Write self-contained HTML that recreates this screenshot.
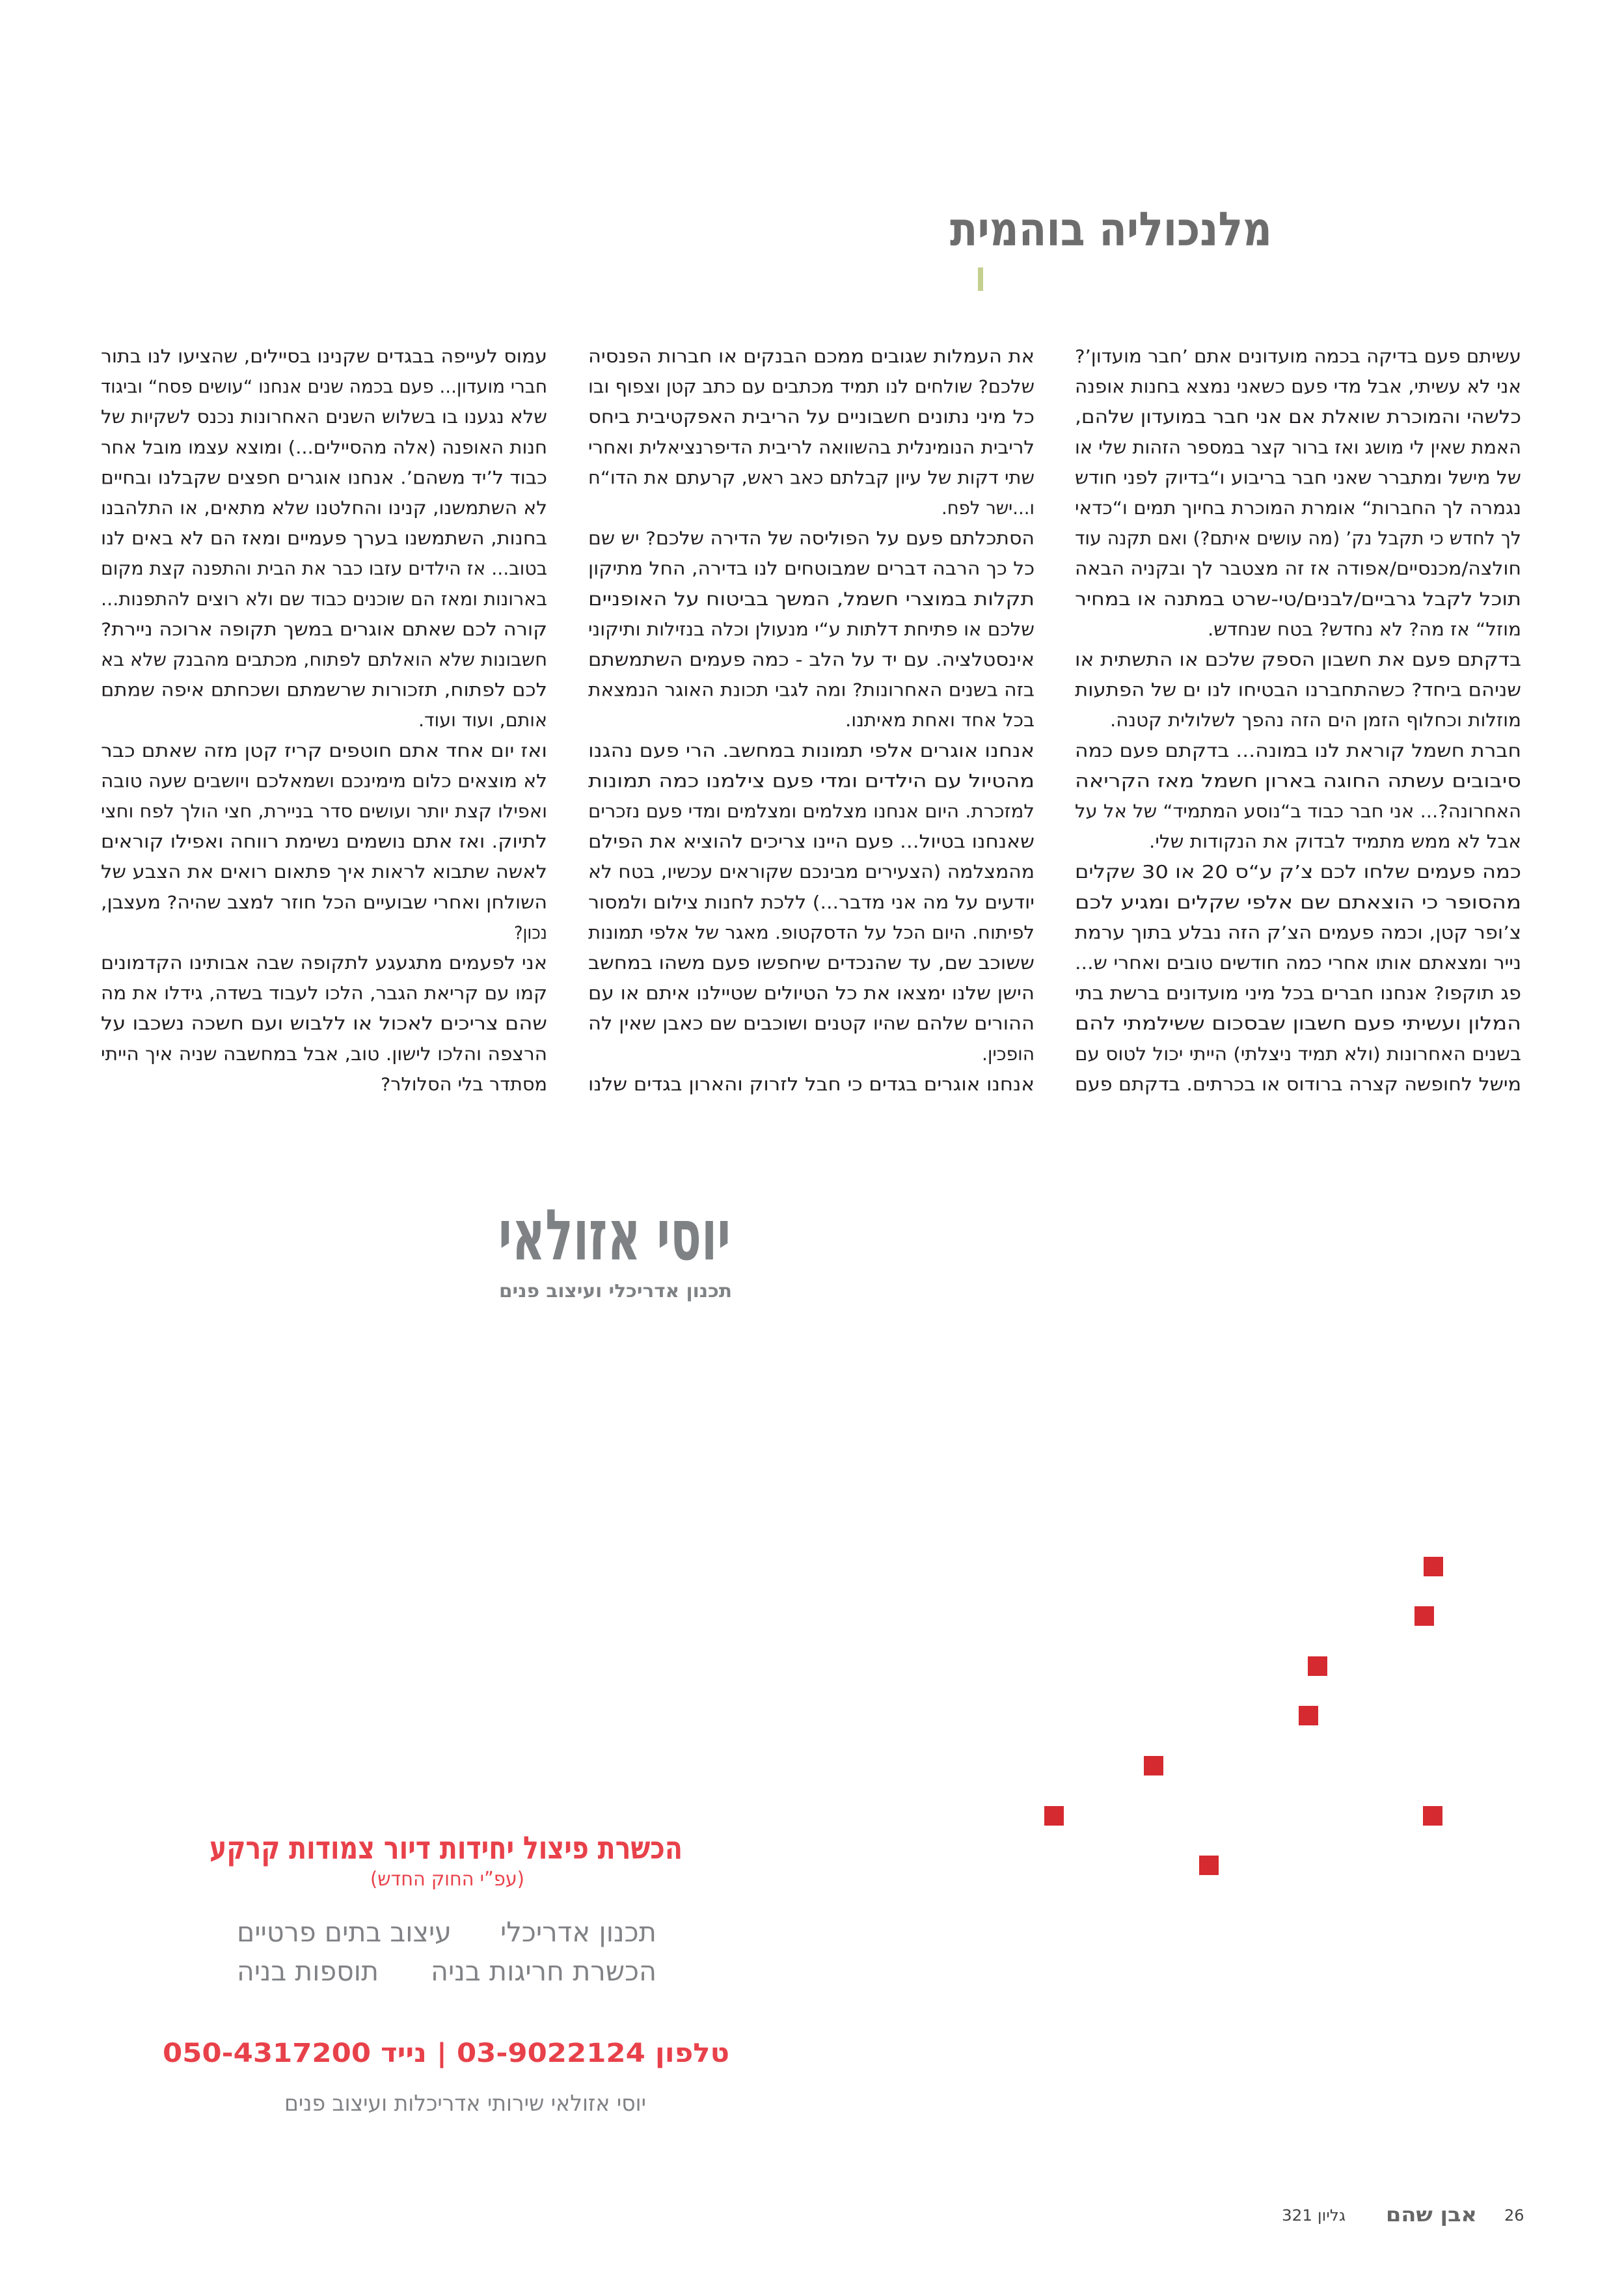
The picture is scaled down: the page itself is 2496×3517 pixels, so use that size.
<!DOCTYPE html>
<html><head><meta charset="utf-8"><style>
html,body{margin:0;padding:0;background:#fff}
svg{display:block}
text{font-family:"DejaVu Sans","Liberation Sans",sans-serif}
.b{font-size:28px;fill:#231f20}
</style></head><body>
<svg width="2496" height="3517" viewBox="0 0 2496 3517" xmlns="http://www.w3.org/2000/svg">
<rect width="2496" height="3517" fill="#fff"/>
<text x="1955" y="377" direction="rtl" text-anchor="start" font-size="72" font-weight="bold" fill="#6d6d6d" textLength="495" lengthAdjust="spacingAndGlyphs">מלנכוליה בוהמית</text>
<rect x="1503" y="411" width="8" height="36" fill="#c4d08e"/>

<g class="b">
<!-- right column -->
<text class="b" x="2338" y="557" direction="rtl" text-anchor="start" textLength="686" lengthAdjust="spacingAndGlyphs">עשיתם פעם בדיקה בכמה מועדונים אתם ’חבר מועדון’?</text>
<text class="b" x="2338" y="603.6" direction="rtl" text-anchor="start" textLength="686" lengthAdjust="spacingAndGlyphs">אני לא עשיתי, אבל מדי פעם כשאני נמצא בחנות אופנה</text>
<text class="b" x="2338" y="650.2" direction="rtl" text-anchor="start" textLength="686" lengthAdjust="spacingAndGlyphs">כלשהי והמוכרת שואלת אם אני חבר במועדון שלהם,</text>
<text class="b" x="2338" y="696.8" direction="rtl" text-anchor="start" textLength="686" lengthAdjust="spacingAndGlyphs">האמת שאין לי מושג ואז ברור קצר במספר הזהות שלי או</text>
<text class="b" x="2338" y="743.4" direction="rtl" text-anchor="start" textLength="686" lengthAdjust="spacingAndGlyphs">של מישל ומתברר שאני חבר בריבוע ו“בדיוק לפני חודש</text>
<text class="b" x="2338" y="790" direction="rtl" text-anchor="start" textLength="686" lengthAdjust="spacingAndGlyphs">נגמרה לך החברות“ אומרת המוכרת בחיוך תמים ו“כדאי</text>
<text class="b" x="2338" y="836.6" direction="rtl" text-anchor="start" textLength="686" lengthAdjust="spacingAndGlyphs">לך לחדש כי תקבל נק’ (מה עושים איתם?) ואם תקנה עוד</text>
<text class="b" x="2338" y="883.2" direction="rtl" text-anchor="start" textLength="686" lengthAdjust="spacingAndGlyphs">חולצה/מכנסיים/אפודה אז זה מצטבר לך ובקניה הבאה</text>
<text class="b" x="2338" y="929.8" direction="rtl" text-anchor="start" textLength="686" lengthAdjust="spacingAndGlyphs">תוכל לקבל גרביים/לבנים/טי-שרט במתנה או במחיר</text>
<text class="b" x="2338" y="976.4" direction="rtl" text-anchor="start" textLength="482" lengthAdjust="spacingAndGlyphs">מוזל“ אז מה? לא נחדש? בטח שנחדש.</text>
<text class="b" x="2338" y="1023" direction="rtl" text-anchor="start" textLength="686" lengthAdjust="spacingAndGlyphs">בדקתם פעם את חשבון הספק שלכם או התשתית או</text>
<text class="b" x="2338" y="1069.6" direction="rtl" text-anchor="start" textLength="686" lengthAdjust="spacingAndGlyphs">שניהם ביחד? כשהתחברנו הבטיחו לנו ים של הפתעות</text>
<text class="b" x="2338" y="1116.2" direction="rtl" text-anchor="start" textLength="632" lengthAdjust="spacingAndGlyphs">מוזלות וכחלוף הזמן הים הזה נהפך לשלולית קטנה.</text>
<text class="b" x="2338" y="1162.8" direction="rtl" text-anchor="start" textLength="686" lengthAdjust="spacingAndGlyphs">חברת חשמל קוראת לנו במונה... בדקתם פעם כמה</text>
<text class="b" x="2338" y="1209.4" direction="rtl" text-anchor="start" textLength="686" lengthAdjust="spacingAndGlyphs">סיבובים עשתה החוגה בארון חשמל מאז הקריאה</text>
<text class="b" x="2338" y="1256" direction="rtl" text-anchor="start" textLength="686" lengthAdjust="spacingAndGlyphs">האחרונה?... אני חבר כבוד ב“נוסע המתמיד“ של אל על</text>
<text class="b" x="2338" y="1302.6" direction="rtl" text-anchor="start" textLength="572" lengthAdjust="spacingAndGlyphs">אבל לא ממש מתמיד לבדוק את הנקודות שלי.</text>
<text class="b" x="2338" y="1349.2" direction="rtl" text-anchor="start" textLength="686" lengthAdjust="spacingAndGlyphs">כמה פעמים שלחו לכם צ’ק ע“ס 20 או 30 שקלים</text>
<text class="b" x="2338" y="1395.8" direction="rtl" text-anchor="start" textLength="686" lengthAdjust="spacingAndGlyphs">מהסופר כי הוצאתם שם אלפי שקלים ומגיע לכם</text>
<text class="b" x="2338" y="1442.4" direction="rtl" text-anchor="start" textLength="686" lengthAdjust="spacingAndGlyphs">צ’ופר קטן, וכמה פעמים הצ’ק הזה נבלע בתוך ערמת</text>
<text class="b" x="2338" y="1489" direction="rtl" text-anchor="start" textLength="686" lengthAdjust="spacingAndGlyphs">נייר ומצאתם אותו אחרי כמה חודשים טובים ואחרי ש...</text>
<text class="b" x="2338" y="1535.6" direction="rtl" text-anchor="start" textLength="686" lengthAdjust="spacingAndGlyphs">פג תוקפו? אנחנו חברים בכל מיני מועדונים ברשת בתי</text>
<text class="b" x="2338" y="1582.2" direction="rtl" text-anchor="start" textLength="686" lengthAdjust="spacingAndGlyphs">המלון ועשיתי פעם חשבון שבסכום ששילמתי להם</text>
<text class="b" x="2338" y="1628.8" direction="rtl" text-anchor="start" textLength="686" lengthAdjust="spacingAndGlyphs">בשנים האחרונות (ולא תמיד ניצלתי) הייתי יכול לטוס עם</text>
<text class="b" x="2338" y="1675.4" direction="rtl" text-anchor="start" textLength="686" lengthAdjust="spacingAndGlyphs">מישל לחופשה קצרה ברודוס או בכרתים. בדקתם פעם</text>

<!-- middle column -->
<text class="b" x="1590" y="557" direction="rtl" text-anchor="start" textLength="686" lengthAdjust="spacingAndGlyphs">את העמלות שגובים ממכם הבנקים או חברות הפנסיה</text>
<text class="b" x="1590" y="603.6" direction="rtl" text-anchor="start" textLength="686" lengthAdjust="spacingAndGlyphs">שלכם? שולחים לנו תמיד מכתבים עם כתב קטן וצפוף ובו</text>
<text class="b" x="1590" y="650.2" direction="rtl" text-anchor="start" textLength="686" lengthAdjust="spacingAndGlyphs">כל מיני נתונים חשבוניים על הריבית האפקטיבית ביחס</text>
<text class="b" x="1590" y="696.8" direction="rtl" text-anchor="start" textLength="686" lengthAdjust="spacingAndGlyphs">לריבית הנומינלית בהשוואה לריבית הדיפרנציאלית ואחרי</text>
<text class="b" x="1590" y="743.4" direction="rtl" text-anchor="start" textLength="686" lengthAdjust="spacingAndGlyphs">שתי דקות של עיון קבלתם כאב ראש, קרעתם את הדו“ח</text>
<text class="b" x="1590" y="790" direction="rtl" text-anchor="start" textLength="143" lengthAdjust="spacingAndGlyphs">ו...ישר לפח.</text>
<text class="b" x="1590" y="836.6" direction="rtl" text-anchor="start" textLength="686" lengthAdjust="spacingAndGlyphs">הסתכלתם פעם על הפוליסה של הדירה שלכם? יש שם</text>
<text class="b" x="1590" y="883.2" direction="rtl" text-anchor="start" textLength="686" lengthAdjust="spacingAndGlyphs">כל כך הרבה דברים שמבוטחים לנו בדירה, החל מתיקון</text>
<text class="b" x="1590" y="929.8" direction="rtl" text-anchor="start" textLength="686" lengthAdjust="spacingAndGlyphs">תקלות במוצרי חשמל, המשך בביטוח על האופניים</text>
<text class="b" x="1590" y="976.4" direction="rtl" text-anchor="start" textLength="686" lengthAdjust="spacingAndGlyphs">שלכם או פתיחת דלתות ע“י מנעולן וכלה בנזילות ותיקוני</text>
<text class="b" x="1590" y="1023" direction="rtl" text-anchor="start" textLength="686" lengthAdjust="spacingAndGlyphs">אינסטלציה. עם יד על הלב - כמה פעמים השתמשתם</text>
<text class="b" x="1590" y="1069.6" direction="rtl" text-anchor="start" textLength="686" lengthAdjust="spacingAndGlyphs">בזה בשנים האחרונות? ומה לגבי תכונת האוגר הנמצאת</text>
<text class="b" x="1590" y="1116.2" direction="rtl" text-anchor="start" textLength="291" lengthAdjust="spacingAndGlyphs">בכל אחד ואחת מאיתנו.</text>
<text class="b" x="1590" y="1162.8" direction="rtl" text-anchor="start" textLength="686" lengthAdjust="spacingAndGlyphs">אנחנו אוגרים אלפי תמונות במחשב. הרי פעם נהגנו</text>
<text class="b" x="1590" y="1209.4" direction="rtl" text-anchor="start" textLength="686" lengthAdjust="spacingAndGlyphs">מהטיול עם הילדים ומדי פעם צילמנו כמה תמונות</text>
<text class="b" x="1590" y="1256" direction="rtl" text-anchor="start" textLength="686" lengthAdjust="spacingAndGlyphs">למזכרת. היום אנחנו מצלמים ומצלמים ומדי פעם נזכרים</text>
<text class="b" x="1590" y="1302.6" direction="rtl" text-anchor="start" textLength="686" lengthAdjust="spacingAndGlyphs">שאנחנו בטיול... פעם היינו צריכים להוציא את הפילם</text>
<text class="b" x="1590" y="1349.2" direction="rtl" text-anchor="start" textLength="686" lengthAdjust="spacingAndGlyphs">מהמצלמה (הצעירים מבינכם שקוראים עכשיו, בטח לא</text>
<text class="b" x="1590" y="1395.8" direction="rtl" text-anchor="start" textLength="686" lengthAdjust="spacingAndGlyphs">יודעים על מה אני מדבר...) ללכת לחנות צילום ולמסור</text>
<text class="b" x="1590" y="1442.4" direction="rtl" text-anchor="start" textLength="686" lengthAdjust="spacingAndGlyphs">לפיתוח. היום הכל על הדסקטופ. מאגר של אלפי תמונות</text>
<text class="b" x="1590" y="1489" direction="rtl" text-anchor="start" textLength="686" lengthAdjust="spacingAndGlyphs">ששוכב שם, עד שהנכדים שיחפשו פעם משהו במחשב</text>
<text class="b" x="1590" y="1535.6" direction="rtl" text-anchor="start" textLength="686" lengthAdjust="spacingAndGlyphs">הישן שלנו ימצאו את כל הטיולים שטיילנו איתם או עם</text>
<text class="b" x="1590" y="1582.2" direction="rtl" text-anchor="start" textLength="686" lengthAdjust="spacingAndGlyphs">ההורים שלהם שהיו קטנים ושוכבים שם כאבן שאין לה</text>
<text class="b" x="1590" y="1628.8" direction="rtl" text-anchor="start" textLength="81" lengthAdjust="spacingAndGlyphs">הופכין.</text>
<text class="b" x="1590" y="1675.4" direction="rtl" text-anchor="start" textLength="686" lengthAdjust="spacingAndGlyphs">אנחנו אוגרים בגדים כי חבל לזרוק והארון בגדים שלנו</text>

<!-- left column -->
<text class="b" x="841" y="557" direction="rtl" text-anchor="start" textLength="686" lengthAdjust="spacingAndGlyphs">עמוס לעייפה בבגדים שקנינו בסיילים, שהציעו לנו בתור</text>
<text class="b" x="841" y="603.6" direction="rtl" text-anchor="start" textLength="686" lengthAdjust="spacingAndGlyphs">חברי מועדון... פעם בכמה שנים אנחנו “עושים פסח“ וביגוד</text>
<text class="b" x="841" y="650.2" direction="rtl" text-anchor="start" textLength="686" lengthAdjust="spacingAndGlyphs">שלא נגענו בו בשלוש השנים האחרונות נכנס לשקיות של</text>
<text class="b" x="841" y="696.8" direction="rtl" text-anchor="start" textLength="686" lengthAdjust="spacingAndGlyphs">חנות האופנה (אלה מהסיילים...)  ומוצא עצמו מובל אחר</text>
<text class="b" x="841" y="743.4" direction="rtl" text-anchor="start" textLength="686" lengthAdjust="spacingAndGlyphs">כבוד ל’יד משהם’. אנחנו אוגרים חפצים שקבלנו ובחיים</text>
<text class="b" x="841" y="790" direction="rtl" text-anchor="start" textLength="686" lengthAdjust="spacingAndGlyphs">לא השתמשנו, קנינו והחלטנו שלא מתאים, או התלהבנו</text>
<text class="b" x="841" y="836.6" direction="rtl" text-anchor="start" textLength="686" lengthAdjust="spacingAndGlyphs">בחנות, השתמשנו בערך פעמיים ומאז הם לא באים לנו</text>
<text class="b" x="841" y="883.2" direction="rtl" text-anchor="start" textLength="686" lengthAdjust="spacingAndGlyphs">בטוב... אז הילדים עזבו כבר את הבית והתפנה קצת מקום</text>
<text class="b" x="841" y="929.8" direction="rtl" text-anchor="start" textLength="686" lengthAdjust="spacingAndGlyphs">בארונות ומאז הם שוכנים כבוד שם ולא רוצים להתפנות...</text>
<text class="b" x="841" y="976.4" direction="rtl" text-anchor="start" textLength="686" lengthAdjust="spacingAndGlyphs">קורה לכם שאתם אוגרים במשך תקופה ארוכה ניירת?</text>
<text class="b" x="841" y="1023" direction="rtl" text-anchor="start" textLength="686" lengthAdjust="spacingAndGlyphs">חשבונות שלא הואלתם לפתוח, מכתבים מהבנק שלא בא</text>
<text class="b" x="841" y="1069.6" direction="rtl" text-anchor="start" textLength="686" lengthAdjust="spacingAndGlyphs">לכם לפתוח, תזכורות שרשמתם ושכחתם איפה שמתם</text>
<text class="b" x="841" y="1116.2" direction="rtl" text-anchor="start" textLength="198" lengthAdjust="spacingAndGlyphs">אותם, ועוד ועוד.</text>
<text class="b" x="841" y="1162.8" direction="rtl" text-anchor="start" textLength="686" lengthAdjust="spacingAndGlyphs">ואז יום אחד אתם חוטפים קריז קטן מזה שאתם כבר</text>
<text class="b" x="841" y="1209.4" direction="rtl" text-anchor="start" textLength="686" lengthAdjust="spacingAndGlyphs">לא מוצאים כלום מימינכם ושמאלכם ויושבים שעה טובה</text>
<text class="b" x="841" y="1256" direction="rtl" text-anchor="start" textLength="686" lengthAdjust="spacingAndGlyphs">ואפילו קצת יותר ועושים סדר בניירת, חצי הולך לפח וחצי</text>
<text class="b" x="841" y="1302.6" direction="rtl" text-anchor="start" textLength="686" lengthAdjust="spacingAndGlyphs">לתיוק. ואז אתם נושמים נשימת רווחה ואפילו קוראים</text>
<text class="b" x="841" y="1349.2" direction="rtl" text-anchor="start" textLength="686" lengthAdjust="spacingAndGlyphs">לאשה שתבוא לראות איך פתאום רואים את הצבע של</text>
<text class="b" x="841" y="1395.8" direction="rtl" text-anchor="start" textLength="686" lengthAdjust="spacingAndGlyphs">השולחן ואחרי שבועיים הכל חוזר למצב שהיה? מעצבן,</text>
<text class="b" x="841" y="1442.4" direction="rtl" text-anchor="start" textLength="51" lengthAdjust="spacingAndGlyphs">נכון?</text>
<text class="b" x="841" y="1489" direction="rtl" text-anchor="start" textLength="686" lengthAdjust="spacingAndGlyphs">אני לפעמים מתגעגע לתקופה שבה אבותינו הקדמונים</text>
<text class="b" x="841" y="1535.6" direction="rtl" text-anchor="start" textLength="686" lengthAdjust="spacingAndGlyphs">קמו עם קריאת הגבר, הלכו לעבוד בשדה, גידלו את מה</text>
<text class="b" x="841" y="1582.2" direction="rtl" text-anchor="start" textLength="686" lengthAdjust="spacingAndGlyphs">שהם צריכים לאכול או ללבוש ועם חשכה נשכבו על</text>
<text class="b" x="841" y="1628.8" direction="rtl" text-anchor="start" textLength="686" lengthAdjust="spacingAndGlyphs">הרצפה והלכו לישון. טוב, אבל במחשבה שניה איך הייתי</text>
<text class="b" x="841" y="1675.4" direction="rtl" text-anchor="start" textLength="256" lengthAdjust="spacingAndGlyphs">מסתדר בלי הסלולר?</text>
</g>

<!-- logo -->
<text x="1123" y="1935" direction="rtl" text-anchor="start" font-size="108" font-weight="bold" fill="#7f8284" textLength="357" lengthAdjust="spacingAndGlyphs">יוסי אזולאי</text>
<text x="1125" y="1993" direction="rtl" text-anchor="start" font-size="28" font-weight="bold" fill="#7f8284" textLength="358" lengthAdjust="spacingAndGlyphs">תכנון אדריכלי ועיצוב פנים</text>

<!-- red squares -->
<g fill="#d52a30">
<rect x="2188" y="2392" width="30" height="30"/>
<rect x="2174" y="2468" width="30" height="30"/>
<rect x="2010" y="2545" width="30" height="30"/>
<rect x="1996" y="2621" width="30" height="30"/>
<rect x="1758" y="2698" width="30" height="30"/>
<rect x="1605" y="2775" width="30" height="30"/>
<rect x="2187" y="2775" width="30" height="30"/>
<rect x="1843" y="2851" width="30" height="30"/>
</g>

<!-- ad -->
<text x="1049" y="2856" direction="rtl" text-anchor="start" font-size="48" font-weight="bold" fill="#e8414a" textLength="727" lengthAdjust="spacingAndGlyphs">הכשרת פיצול יחידות דיור צמודות קרקע</text>
<text x="806" y="2897" direction="rtl" text-anchor="start" font-size="30" fill="#e8414a" textLength="237" lengthAdjust="spacingAndGlyphs">(עפ”י החוק החדש)</text>
<text x="1009" y="2983" direction="rtl" text-anchor="start" font-size="42" fill="#808285" textLength="240" lengthAdjust="spacingAndGlyphs">תכנון אדריכלי</text>
<text x="694" y="2983" direction="rtl" text-anchor="start" font-size="42" fill="#808285" textLength="330" lengthAdjust="spacingAndGlyphs">עיצוב בתים פרטיים</text>
<text x="1009" y="3043" direction="rtl" text-anchor="start" font-size="42" fill="#808285" textLength="347" lengthAdjust="spacingAndGlyphs">הכשרת חריגות בניה</text>
<text x="582" y="3043" direction="rtl" text-anchor="start" font-size="42" fill="#808285" textLength="218" lengthAdjust="spacingAndGlyphs">תוספות בניה</text>
<text x="1121" y="3168" direction="rtl" text-anchor="start" font-size="40" font-weight="bold" fill="#e8414a" textLength="871" lengthAdjust="spacingAndGlyphs">טלפון 03-9022124 | נייד 050-4317200</text>
<text x="993" y="3243" direction="rtl" text-anchor="start" font-size="34" fill="#808285" textLength="556" lengthAdjust="spacingAndGlyphs">יוסי אזולאי שירותי אדריכלות ועיצוב פנים</text>

<!-- footer -->
<text x="2312" y="3412" font-size="24" fill="#444">26</text>
<text x="2270" y="3413" direction="rtl" text-anchor="start" font-size="30" font-weight="bold" fill="#666" textLength="140" lengthAdjust="spacingAndGlyphs">אבן שהם</text>
<text x="2068" y="3412" direction="rtl" text-anchor="start" font-size="24" fill="#444" textLength="98" lengthAdjust="spacingAndGlyphs">גליון 321</text>
</svg>
</body></html>
